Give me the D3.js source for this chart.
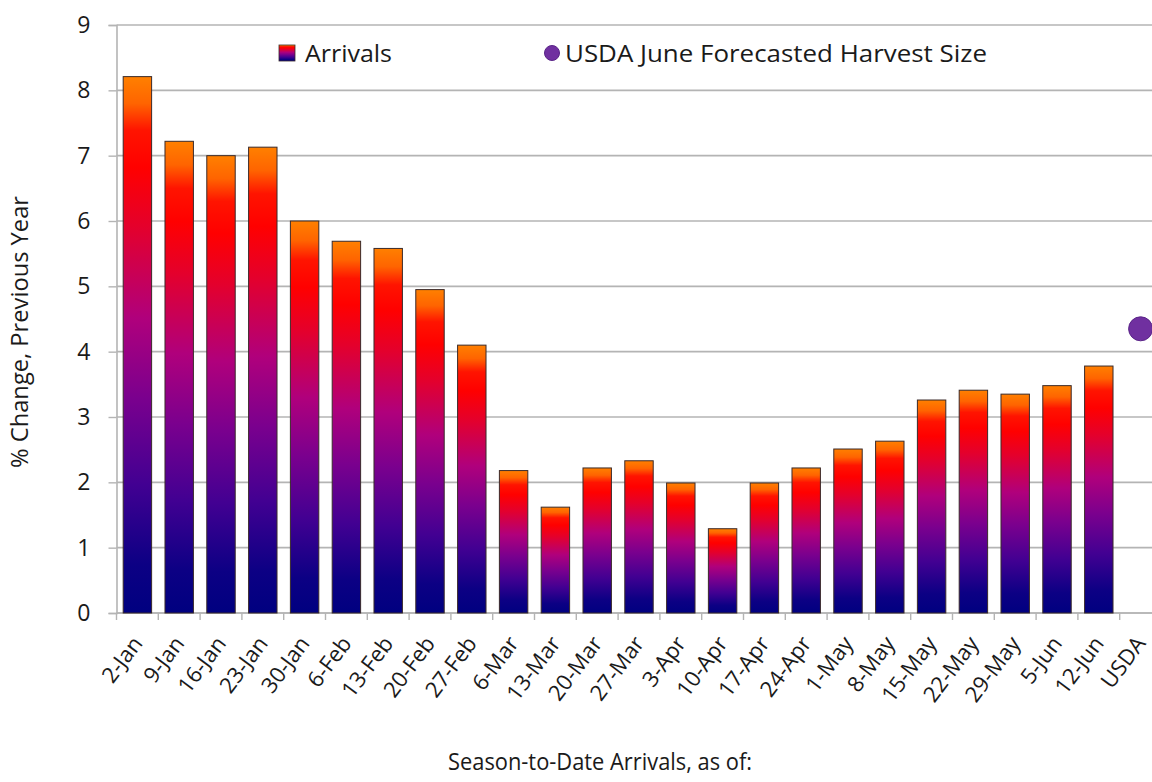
<!DOCTYPE html>
<html>
<head>
<meta charset="utf-8">
<script src="https://cdn.jsdelivr.net/npm/d3@7/dist/d3.min.js"></script>
<style>
  html, body { margin: 0; padding: 0; background: #fff; }
  svg { display: block; font-family: "Open Sans", "Noto Sans", sans-serif; }
</style>
</head>
<body>
<svg id="chart" width="1152" height="782"></svg>
<script>
// Season-to-date arrivals, % change vs previous year
const weeks = ["2-Jan","9-Jan","16-Jan","23-Jan","30-Jan","6-Feb","13-Feb","20-Feb","27-Feb",
  "6-Mar","13-Mar","20-Mar","27-Mar","3-Apr","10-Apr","17-Apr","24-Apr","1-May","8-May",
  "15-May","22-May","29-May","5-Jun","12-Jun"];
const arrivals = [8.21, 7.22, 7.0, 7.13, 6.0, 5.69, 5.58, 4.95, 4.1,
  2.18, 1.62, 2.22, 2.33, 1.99, 1.29, 1.99, 2.22, 2.51, 2.63,
  3.26, 3.41, 3.35, 3.48, 3.78];
const usdaLabel = "USDA";
const usdaForecast = 4.35;
const categories = weeks.concat([usdaLabel]);
const yTicks = [0, 1, 2, 3, 4, 5, 6, 7, 8, 9];

const svg = d3.select("#chart");
const plotLeft = 116.5, plotBottom = 613, plotTop = 25;
const catStep = 41.8;
const textColor = "#1a1a1a";
const gridColor = "#b4b4b4";

const x = d3.scaleBand()
  .domain(categories)
  .range([plotLeft, plotLeft + catStep * categories.length])
  .paddingInner(0.32)
  .paddingOuter(0.16);

const y = d3.scaleLinear().domain([0, 9]).range([plotBottom, plotTop]);

// bar fill: orange cap, red, magenta, purple, navy base
const defs = svg.append("defs");
const grad = defs.append("linearGradient")
  .attr("id", "fire").attr("x1", 0).attr("y1", 0).attr("x2", 0).attr("y2", 1);
[[0, "#ff8000"], [0.05, "#ff6400"], [0.1, "#ff1400"], [0.17, "#ff0000"], [0.28, "#e4002c"],
 [0.45, "#b0007c"], [0.6, "#7a008e"], [0.76, "#420092"], [0.91, "#0c0084"], [1, "#000080"]]
  .forEach(([o, c]) => grad.append("stop").attr("offset", o).attr("stop-color", c));

// horizontal gridlines
svg.append("g").selectAll("line").data(yTicks).join("line")
  .attr("x1", plotLeft).attr("x2", 1152)
  .attr("y1", d => y(d)).attr("y2", d => y(d))
  .attr("stroke", gridColor).attr("stroke-width", 1.6);

// y axis
const yAxis = svg.append("g").attr("transform", `translate(${plotLeft},0)`)
  .call(d3.axisLeft(y).tickValues(yTicks).tickSize(8).tickPadding(18).tickFormat(d3.format("d")));
yAxis.select(".domain").attr("stroke", gridColor).attr("stroke-width", 1.6);
yAxis.selectAll(".tick line").attr("stroke", gridColor).attr("stroke-width", 1.4);
yAxis.selectAll(".tick text").attr("font-size", 23).attr("fill", textColor)
  .attr("font-family", "'Open Sans', sans-serif");

// bottom axis with ticks at category boundaries
const xAxisG = svg.append("g");
xAxisG.append("line").attr("x1", plotLeft).attr("x2", 1152)
  .attr("y1", plotBottom).attr("y2", plotBottom).attr("stroke", gridColor).attr("stroke-width", 1.6);
xAxisG.selectAll("line.tk").data(d3.range(categories.length + 1)).join("line")
  .attr("class", "tk")
  .attr("x1", i => plotLeft + i * x.step()).attr("x2", i => plotLeft + i * x.step())
  .attr("y1", plotBottom).attr("y2", plotBottom + 7)
  .attr("stroke", gridColor).attr("stroke-width", 1.4);

// bars
svg.append("g").selectAll("rect").data(weeks).join("rect")
  .attr("x", (d) => x(d))
  .attr("width", x.bandwidth())
  .attr("y", (d, i) => y(arrivals[i]))
  .attr("height", (d, i) => y(0) - y(arrivals[i]))
  .attr("fill", "url(#fire)")
  .attr("stroke", "#3a2a2a").attr("stroke-width", 1);

// USDA forecast marker
svg.append("circle")
  .attr("cx", x(usdaLabel) + x.bandwidth() / 2)
  .attr("cy", y(usdaForecast))
  .attr("r", 12)
  .attr("fill", "#7030a0").attr("stroke", "#5a2488").attr("stroke-width", 1);

// category labels
svg.append("g").selectAll("text").data(categories).join("text")
  .attr("transform", d => `translate(${x(d) + x.bandwidth() / 2},${plotBottom + 26}) rotate(-53)`)
  .attr("text-anchor", "end")
  .attr("dy", "0.35em")
  .attr("font-size", 22)
  .attr("fill", textColor)
  .text(d => d);

// axis titles
svg.append("text")
  .attr("transform", "translate(28,332) rotate(-90)")
  .attr("text-anchor", "middle")
  .attr("font-size", 23).attr("fill", textColor)
  .attr("textLength", 272).attr("lengthAdjust", "spacingAndGlyphs")
  .text("% Change, Previous Year");

svg.append("text")
  .attr("x", 600).attr("y", 770)
  .attr("text-anchor", "middle")
  .attr("font-size", 23).attr("fill", textColor)
  .attr("textLength", 304).attr("lengthAdjust", "spacingAndGlyphs")
  .text("Season-to-Date Arrivals, as of:");

// legend
const legend = svg.append("g");
legend.append("rect").attr("x", 279).attr("y", 45).attr("width", 16).attr("height", 16)
  .attr("fill", "url(#fire)").attr("stroke", "#3a2a2a").attr("stroke-width", 0.8);
legend.append("text").attr("x", 305).attr("y", 62)
  .attr("font-size", 24).attr("fill", textColor)
  .attr("textLength", 87).attr("lengthAdjust", "spacingAndGlyphs")
  .text("Arrivals");
legend.append("circle").attr("cx", 552).attr("cy", 53).attr("r", 7.5)
  .attr("fill", "#7030a0").attr("stroke", "#5a2488").attr("stroke-width", 1);
legend.append("text").attr("x", 565).attr("y", 62)
  .attr("font-size", 24).attr("fill", textColor)
  .attr("textLength", 422).attr("lengthAdjust", "spacingAndGlyphs")
  .text("USDA June Forecasted Harvest Size");
</script>
</body>
</html>
